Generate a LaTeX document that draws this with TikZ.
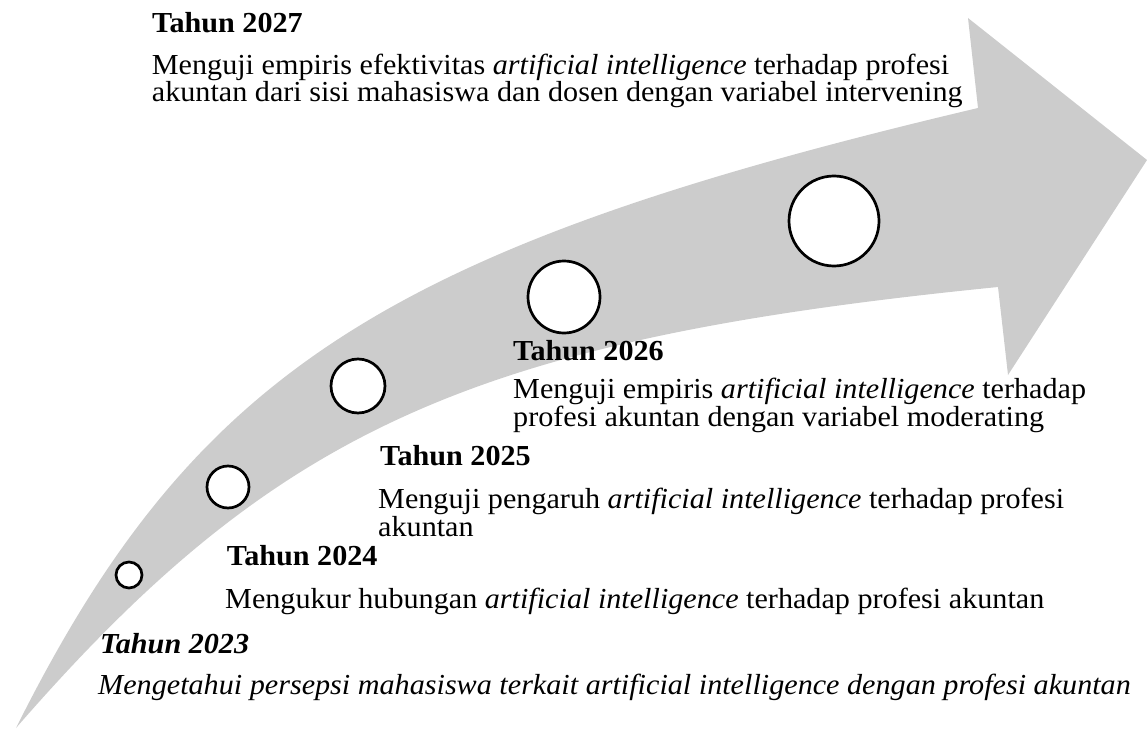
\documentclass[tikz,border=0pt]{standalone}
\usepackage{fontspec}
\setmainfont{Liberation Serif}[FakeStretch=1.04]
\definecolor{arrowgray}{RGB}{204,204,204}
\begin{document}
\begin{tikzpicture}[x=1pt,y=-1pt,
  txt/.style={anchor=base west, inner sep=0pt, font=\fontsize{29}{31}\selectfont},
  head/.style={txt, font=\fontsize{29}{31}\selectfont\bfseries},
  headit/.style={txt, font=\fontsize{29}{31}\selectfont\bfseries\itshape},
  txtit/.style={txt, font=\fontsize{29}{31}\selectfont\itshape},
  dot/.style={circle, draw=black, fill=white, line width=2.7pt, inner sep=0pt, minimum size=#1}]
\useasboundingbox (0,0) rectangle (1147,730);

% curved timeline arrow
\fill[arrowgray]
  (16,728) .. controls (194.4,371.2) and (386.8,247.5) .. (978,108)
  -- (968,18) -- (1147,160) -- (1008,375) -- (998,287)
  .. controls (473.6,339.4) and (277.2,427.6) .. (16,728)
  -- cycle;

% milestones
\node[dot=26pt] (c23) at (129,575) {};
\node[dot=42pt] (c24) at (228,487) {};
\node[dot=54pt] (c25) at (358,386) {};
\node[dot=72pt] (c26) at (564,297) {};
\node[dot=90pt] (c27) at (834,221) {};

% 2027
\node[head] (h27) at (152,32.3) {Tahun 2027};
\node[txt] (d27a) at (151.7,75) {Menguji empiris efektivitas \textit{artificial intelligence} terhadap profesi};
\node[txt] (d27b) at (151.7,101.7) {akuntan dari sisi mahasiswa dan dosen dengan variabel intervening};
% 2026
\node[head] (h26) at (513,360) {Tahun 2026};
\node[txt] (d26a) at (513,398) {Menguji empiris \textit{artificial intelligence} terhadap};
\node[txt] (d26b) at (513,426.7) {profesi akuntan dengan variabel moderating};
% 2025
\node[head] (h25) at (380,465) {Tahun 2025};
\node[txt] (d25a) at (378,508.3) {Menguji pengaruh \textit{artificial intelligence} terhadap profesi};
\node[txt] (d25b) at (378,536) {akuntan};
% 2024
\node[head] (h24) at (226.7,565.7) {Tahun 2024};
\node[txt] (d24) at (225,608.3) {Mengukur hubungan \textit{artificial intelligence} terhadap profesi akuntan};
% 2023
\node[headit] (h23) at (100,653.3) {Tahun 2023};
\node[txtit] (d23) at (98,694.3) {Mengetahui persepsi mahasiswa terkait artificial intelligence dengan profesi akuntan};
\end{tikzpicture}
\end{document}
